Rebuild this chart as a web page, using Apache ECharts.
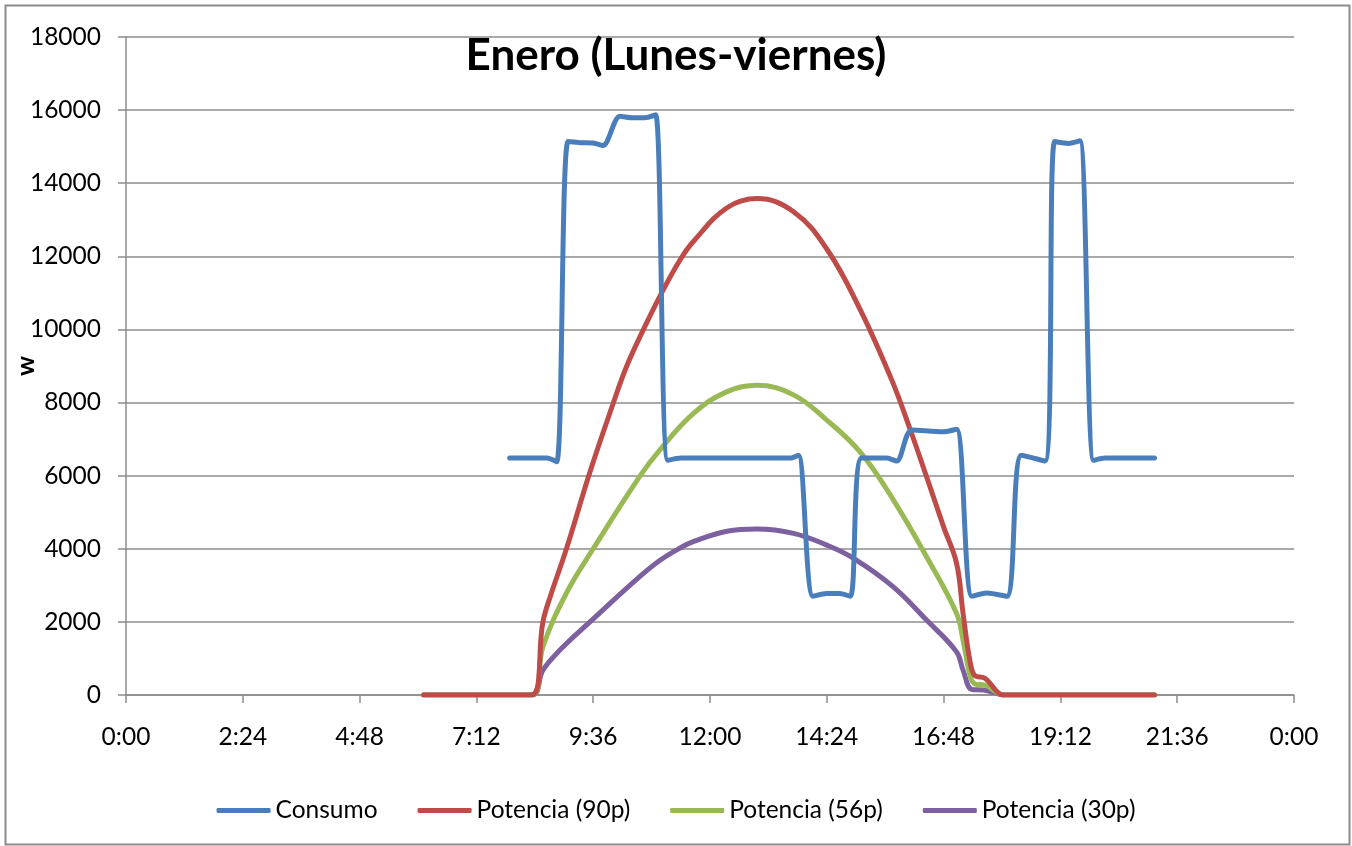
<!DOCTYPE html>
<html lang="es">
<head>
    <meta charset="UTF-8">
    <title>Enero (Lunes-viernes)</title>
    <script src="https://cdn.jsdelivr.net/npm/echarts@6/dist/echarts.min.js"></script>
    <style>
        html, body { margin: 0; padding: 0; background: #fff; }
    </style>
</head>
<body>
<div id="main" style="width: 1352px;height: 846px"></div>
<script type="text/javascript">
  // minutes since 0:00, power in W
  var consumoMin = [473, 519, 531, 545, 560, 576, 588, 609, 625, 642, 653, 668, 684, 819, 829, 847, 864, 880, 893, 907, 938, 950, 969, 1008, 1024, 1043, 1061, 1086, 1104, 1133, 1145, 1162, 1176, 1193, 1207, 1268];
  var consumoW = [6480, 6480, 6380, 15140, 15110, 15100, 15030, 15830, 15790, 15800, 15870, 6420, 6480, 6480, 6560, 2700, 2780, 2780, 2700, 6480, 6480, 6400, 7250, 7200, 7270, 2700, 2790, 2700, 6560, 6400, 15140, 15090, 15160, 6420, 6480, 6480];

  var p90Min = [367, 500, 514, 523, 543, 572, 601, 617, 638, 658, 683, 700, 741, 778, 823, 864, 905, 944, 967, 987, 1008, 1024, 1032, 1041, 1047, 1059, 1074, 1081, 1268];
  var p90W = [0, 0, 2000, 2690, 4000, 6100, 8000, 8980, 10000, 10900, 11900, 12420, 13330, 13580, 13220, 12200, 10550, 8620, 7250, 5970, 4600, 3600, 2230, 870, 520, 460, 90, 0, 0];

  var p56Min = [367, 500, 514, 543, 576, 634, 658, 700, 741, 778, 823, 864, 905, 946, 987, 1024, 1032, 1041, 1047, 1059, 1074, 1081, 1268];
  var p56W = [0, 0, 1320, 2790, 4000, 6000, 6700, 7710, 8300, 8470, 8210, 7520, 6650, 5340, 3780, 2230, 1500, 500, 300, 270, 60, 0, 0];

  var p30Min = [367, 500, 514, 535, 572, 634, 658, 683, 700, 741, 778, 823, 864, 897, 946, 987, 1024, 1032, 1043, 1057, 1074, 1081, 1268];
  var p30W = [0, 0, 680, 1230, 2000, 3250, 3680, 4020, 4200, 4480, 4540, 4420, 4100, 3740, 2960, 2050, 1180, 680, 150, 135, 40, 0, 0];

  var seriesNames = ['Consumo', 'Potencia (90p)', 'Potencia (56p)', 'Potencia (30p)'];
  var seriesColors = ['#4A7EBB', '#BE4B48', '#98B954', '#7D60A0'];

  function pairs(xs, ys) {
    var out = [];
    for (var i = 0; i < xs.length; i++) out.push([xs[i], ys[i]]);
    return out;
  }
  function fmtTime(m) {
    var h = Math.floor(m / 60) % 24;
    var mm = Math.round(m % 60);
    return h + ':' + (mm < 10 ? '0' : '') + mm;
  }

  var font = 'Lato, "Open Sans", sans-serif';
  var gridColor = '#8c8c8c';

  var allData = [pairs(consumoMin, consumoW), pairs(p90Min, p90W), pairs(p56Min, p56W), pairs(p30Min, p30W)];
  var series = [];
  for (var i = 0; i < seriesNames.length; i++) {
    series.push({
      name: seriesNames[i],
      type: 'line',
      data: allData[i],
      symbol: 'none',
      smooth: i === 0 ? 0.3 : 0.4,
      lineStyle: { width: 5, color: seriesColors[i], cap: 'round', join: 'round' },
      itemStyle: { color: seriesColors[i] },
      z: 10 - i
    });
  }

  var myChart = echarts.init(document.getElementById('main'));
  var option = {
    backgroundColor: '#fff',
    animation: false,
    title: {
      text: 'Enero (Lunes-viernes)',
      left: 'center',
      top: 34,
      padding: 0,
      textStyle: { fontFamily: font, fontWeight: 'bold', fontSize: 44, color: '#000', lineHeight: 44 }
    },
    legend: {
      left: 'center',
      top: 793,
      icon: 'roundRect',
      itemWidth: 54,
      itemHeight: 5,
      itemGap: 40,
      textStyle: { fontFamily: font, fontSize: 24.5, color: '#000' },
      data: seriesNames
    },
    grid: { left: 126, right: 58, top: 37, bottom: 151, outerBoundsMode: 'none', containLabel: false },
    xAxis: {
      type: 'value',
      min: 0,
      max: 1440,
      interval: 144,
      axisLine: { lineStyle: { color: gridColor, width: 1.5 } },
      axisTick: { show: true, length: 8, lineStyle: { color: gridColor, width: 1.5 } },
      axisLabel: {
        margin: 30,
        fontFamily: font, fontSize: 24.5, color: '#000',
        formatter: function (v) { return fmtTime(v); }
      },
      splitLine: { show: false }
    },
    yAxis: {
      type: 'value',
      min: 0,
      max: 18000,
      interval: 2000,
      name: 'w',
      nameLocation: 'middle',
      nameGap: 88,
      nameMoveOverlap: false,
      nameTextStyle: { fontFamily: font, fontWeight: 'bold', fontSize: 25, color: '#000' },
      axisLine: { show: true, lineStyle: { color: gridColor, width: 1.5 } },
      axisTick: { show: true, length: 8, lineStyle: { color: gridColor, width: 1.5 } },
      axisLabel: {
        margin: 25, fontFamily: font, fontSize: 24.5, color: '#000',
        formatter: function (v) { return String(v); }
      },
      splitLine: { show: true, lineStyle: { color: gridColor, width: 1.5 } }
    },
    graphic: [{
      type: 'rect',
      left: 3, top: 3,
      shape: { width: 1344, height: 839 },
      style: { fill: null, stroke: '#8c8c8c', lineWidth: 2 },
      silent: true, z: -1
    }],
    series: series
  };
  myChart.setOption(option);
</script>
</body>
</html>
